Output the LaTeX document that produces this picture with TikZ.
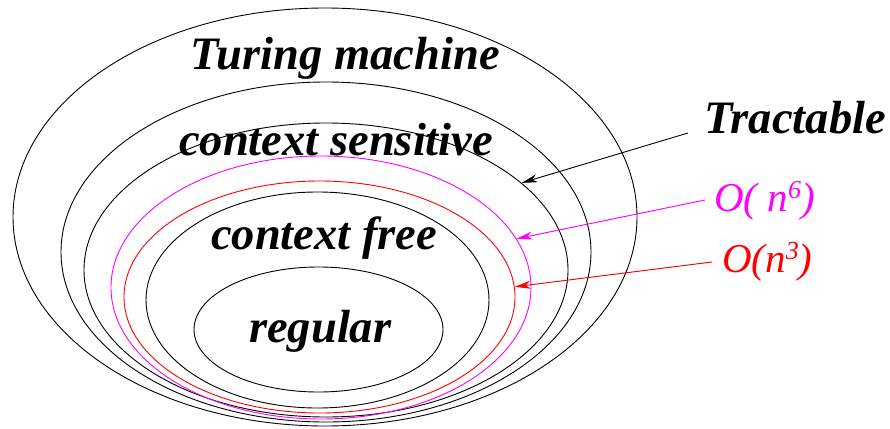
\documentclass[tikz,border=0pt]{standalone}
\usepackage{fontspec}
\setmainfont{Liberation Serif}
\usetikzlibrary{shapes.geometric,arrows.meta}
\definecolor{mag}{RGB}{255,0,255}
\definecolor{rd}{RGB}{255,0,0}
\newcommand{\mysup}[1]{\raisebox{13pt}{\fontsize{26}{26}\selectfont #1}}
\begin{document}
\begin{tikzpicture}[x=1pt,y=-1pt,
  ring/.style={draw,ellipse,inner sep=0pt,line width=0.9pt},
  biglabel/.style={anchor=base west,inner sep=0pt,font=\fontsize{46.5}{50}\selectfont\bfseries\itshape},
  olabel/.style={anchor=base west,inner sep=0pt,font=\fontsize{41}{44}\selectfont\itshape},
  pointer/.style={line width=0.9pt,-{Stealth[length=16pt,width=8pt,inset=5pt]}}]
\useasboundingbox (0,0) rectangle (890,428);
% rings
\node[ring,minimum width=624pt,minimum height=418pt] (e1) at (325,217) {};
\node[ring,minimum width=530pt,minimum height=340pt] (e2) at (326,252) {};
\node[ring,minimum width=484pt,minimum height=294pt] (e3) at (326,270) {};
\node[ring,draw=mag,minimum width=420pt,minimum height=263pt] (e4) at (321,287.5) {};
\node[ring,draw=rd,minimum width=391pt,minimum height=232pt] (e5) at (319.5,297) {};
\node[ring,minimum width=343pt,minimum height=216pt] (e6) at (317.5,300) {};
\node[ring,minimum width=249pt,minimum height=125pt] (e7) at (318.5,329.5) {};
% labels
\node[biglabel] (tm) at (190,70) {Turing machine};
\node[biglabel] (cs) at (179,155) {context sensitive};
\node[biglabel] (cf) at (211,249) {context free};
\node[biglabel] (rg) at (249,342) {regular};
\node[biglabel] (tr) at (704,133) {Tractable};
\node[olabel,text=mag] (o6) at (714,211) {O( n\mysup{6})};
\node[olabel,text=rd] (o3) at (722,272) {O(n\mysup{3})};
% pointers
\coordinate (tr0) at (688,133);
\coordinate (o60) at (705,200);
\coordinate (o30) at (712,262);
\draw[pointer] (tr0) -- (e3.24.6);
\draw[pointer,draw=mag,fill=mag] (o60) -- (e4.14.1);
\draw[pointer,draw=rd,fill=rd] (o30) -- (e5.3.5);
\end{tikzpicture}
\end{document}
